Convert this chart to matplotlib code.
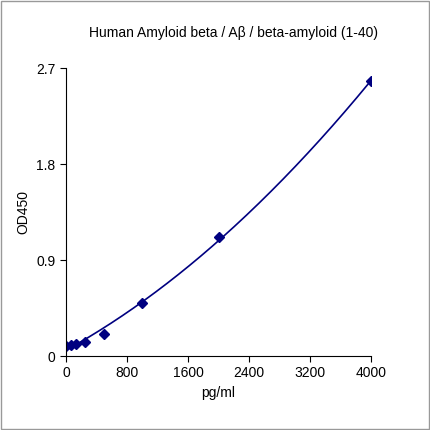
import numpy as np
import matplotlib
matplotlib.use("Agg")
import matplotlib.pyplot as plt

plt.rcParams["font.family"] = ["Liberation Sans", "DejaVu Sans"]

conc = [0, 62.5, 125, 250, 500, 1000, 2000, 4000]
od = [0.09, 0.10, 0.11, 0.13, 0.21, 0.50, 1.115, 2.575]
x_ticks = [0, 800, 1600, 2400, 3200, 4000]
y_ticks = [0, 0.9, 1.8, 2.7]
navy = "#000080"

fig = plt.figure(figsize=(4.3, 4.3), dpi=100)
fig.patches.append(plt.Rectangle((0.002, 0.002), 0.996, 0.996, transform=fig.transFigure,
                                 fill=False, edgecolor="#999999", linewidth=1))
ax = fig.add_axes([66 / 430, 74 / 430, 305 / 430, 288 / 430])

coef = np.polyfit(conc, od, 2)
xs = np.linspace(0, 4000, 300)
ax.plot(xs, np.polyval(coef, xs), color=navy, linewidth=1.2)
ax.plot(conc, od, linestyle="none", marker="D", markersize=5.5, color=navy)

ax.set_xlim(0, 4000)
ax.set_ylim(0, 2.7)
ax.set_xticks(x_ticks)
ax.set_yticks(y_ticks)
ax.set_yticklabels(["0", "0.9", "1.8", "2.7"])
ax.spines["top"].set_visible(False)
ax.spines["right"].set_visible(False)
ax.tick_params(direction="out", length=4, labelsize=10)
ax.set_xlabel("pg/ml", fontsize=10)
ax.set_ylabel("OD450", fontsize=10)
ax.set_title("Human Amyloid beta / Aβ / beta-amyloid (1-40)", fontsize=10, pad=22, x=0.55)

fig.savefig("out.png", dpi=100)
